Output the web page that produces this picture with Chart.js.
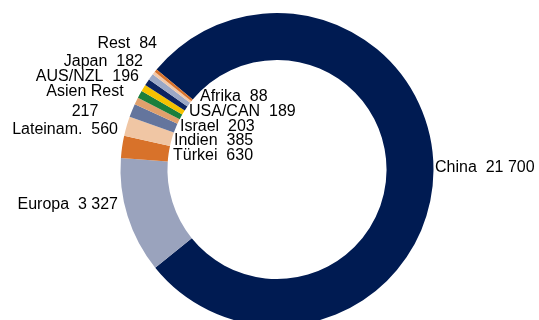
<!DOCTYPE html>
<html>
<head>
<meta charset="utf-8">
<script src="https://cdn.jsdelivr.net/npm/chart.js@4"></script>
<style>
  html, body { margin: 0; padding: 0; background: #fff; overflow: hidden; }
  #wrap { width: 539px; height: 320px; overflow: hidden; }
</style>
</head>
<body>
<div id="wrap"><canvas id="ring" width="539" height="340"></canvas></div>
<script>
// regions, clockwise from the top-left
const regions = ['China', 'Europa', 'Türkei', 'Lateinam.', 'Indien', 'Israel', 'Asien Rest', 'AUS/NZL', 'USA/CAN', 'Japan', 'Afrika', 'Rest'];
const amounts = [21700, 3327, 630, 560, 385, 203, 217, 196, 189, 182, 88, 84];
const sliceColors = ['#001b52', '#9aa3bd', '#d8722a', '#f0c6a4', '#64759d', '#e0a06c', '#1a7f3c', '#f5c200', '#0c2461', '#9ba8c6', '#f2c8a8', '#d8722a'];

// where each name/value label sits
const labelSpots = [
  { x: 435, y: 168, align: 'left' },
  { x: 118, y: 205, align: 'right' },
  { x: 173, y: 156, align: 'left' },
  { x: 118, y: 130, align: 'right' },
  { x: 174, y: 141, align: 'left' },
  { x: 180, y: 127, align: 'left' },
  { x: 85, y: 92, align: 'center', twoLines: true },
  { x: 139, y: 77, align: 'right' },
  { x: 189, y: 112, align: 'left' },
  { x: 143, y: 62, align: 'right' },
  { x: 200, y: 97, align: 'left' },
  { x: 157, y: 44, align: 'right' }
];

const fmt = (v) => String(v).replace(/\B(?=(\d{3})+(?!\d))/g, ' ');

const sliceLabels = {
  id: 'sliceLabels',
  afterDraw(chart) {
    const ctx = chart.ctx;
    ctx.save();
    ctx.font = '16px "Liberation Sans", Arial, sans-serif';
    ctx.fillStyle = '#000';
    ctx.textBaseline = 'middle';
    regions.forEach((name, i) => {
      const s = labelSpots[i];
      ctx.textAlign = s.align;
      if (s.twoLines) {
        ctx.fillText(name, s.x, s.y);
        ctx.fillText(fmt(amounts[i]), s.x, s.y + 20);
      } else {
        ctx.fillText(name + '  ' + fmt(amounts[i]), s.x, s.y);
      }
    });
    ctx.restore();
  }
};

new Chart(document.getElementById('ring'), {
  type: 'doughnut',
  data: {
    labels: regions,
    datasets: [{
      data: amounts,
      backgroundColor: sliceColors,
      borderWidth: 0
    }]
  },
  options: {
    responsive: false,
    devicePixelRatio: 1,
    animation: false,
    cutout: '70%',
    rotation: -50.3,
    layout: { padding: { top: 13, bottom: 14, left: 15, right: 0 } },
    plugins: {
      legend: { display: false },
      tooltip: { enabled: false }
    }
  },
  plugins: [sliceLabels]
});
</script>
</body>
</html>
